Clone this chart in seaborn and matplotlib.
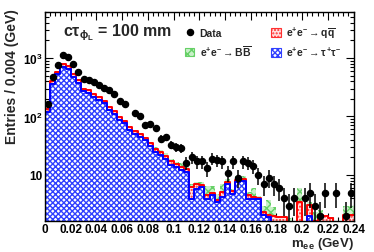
import numpy as np
import pandas as pd
import matplotlib
matplotlib.use("Agg")
import matplotlib.pyplot as plt
import seaborn as sns
from matplotlib.ticker import MultipleLocator, LogLocator, NullFormatter
from matplotlib.patches import Patch
from matplotlib.lines import Line2D

# ---------------- data ----------------
bin_width = 0.004
n_bins = 60

data_counts = [160, 470, 760, 1125, 1040, 800, 583, 438, 416, 385,
               345, 304, 280, 245, 185, 165, 0, 115, 103, 70,
               74, 63, 41, 44, 33, 30, 29, 16, 20, 17,
               17, 13, 19, 18, 17, 11, 17, 9, 17, 16,
               14, 10, 7, 9, 7, 6, 4, 3, 4, 0,
               4, 5, 3, 2, 5, 0, 5, 0, 2, 5]

tautau = [121, 360, 525, 711, 648, 477, 378, 270, 256, 218,
          192, 167, 131, 112, 88, 76, 59, 51, 45, 39,
          31.5, 25, 22, 18.5, 15, 13.7, 12.2, 11.3, 3.9, 5.8,
          6.2, 3.9, 4.5, 3.5, 4.2, 6.9, 4.8, 7.5, 8.0, 3.9,
          3.9, 3.9, 2.1, 1.9, 1.0, 0, 0, 0, 0, 0,
          0, 2.0, 0, 0, 0, 0, 0, 0, 0, 0]

qqbar = [13, 40, 58, 79, 72, 53, 42, 30, 29, 24,
         21, 19, 14, 13, 10, 9, 7, 6, 5, 4,
         3.5, 3, 3, 2.5, 2, 1.7, 1.5, 1.4, 2.3, 1.2,
         0.6, 0.7, 0.5, 0.3, 0.9, 0.6, 0.6, 0.7, 0.6, 0.6,
         0.3, 0.2, 0.2, 0.2, 1.0, 1.9, 1.9, 0, 0, 3.4,
         0, 1.1, 1.6, 2.1, 2.0, 1.8, 0, 0, 2.1, 2.1]

bbbar = [0, 0, 0, 0, 0, 0, 0, 0, 0, 0,
         0, 0.5, 0.5, 1, 1.5, 1, 1.5, 1, 2, 1.5,
         1, 2.5, 2, 2.5, 1.5, 1.5, 2, 1.5, 0.8, 0.5,
         0.8, 1.9, 1.5, 0.9, 1.8, 1.1, 0.4, 1.2, 0.8, 0.7,
         1.8, 0.3, 0.6, 1.6, 0.8, 0.1, 0, 1.8, 0, 2.5,
         0, 0.4, 0.7, 0.4, 0, 0, 0, 0, 0.9, 0.9]

x_ticks = [0, 0.02, 0.04, 0.06, 0.08, 0.1, 0.12, 0.14, 0.16, 0.18, 0.2, 0.22, 0.24]
x_tick_labels = ["0", "0.02", "0.04", "0.06", "0.08", "0.1", "0.12", "0.14",
                 "0.16", "0.18", "0.2", "0.22", "0.24"]
y_ticks = [10, 100, 1000]
y_tick_labels = ["10", r"10$^{2}$", r"10$^{3}$"]

# ---------------- style ----------------
sns.set_theme(style="ticks")
plt.rcParams['font.family'] = ['Liberation Sans', 'DejaVu Sans']
plt.rcParams['font.weight'] = 'bold'
plt.rcParams['mathtext.fontset'] = 'custom'
plt.rcParams['mathtext.rm'] = 'Liberation Sans:bold'
plt.rcParams['mathtext.it'] = 'Liberation Sans:bold'
plt.rcParams['mathtext.bf'] = 'Liberation Sans:bold'
plt.rcParams['mathtext.sf'] = 'Liberation Sans:bold'
plt.rcParams['hatch.linewidth'] = 1.0

edges = [round(i * bin_width, 6) for i in range(n_bins + 1)]
centers = np.array([(edges[i] + edges[i + 1]) / 2 for i in range(n_bins)])

tau = np.array(tautau, float)
qq = np.array(qqbar, float)
bb = np.array(bbbar, float)
dat = np.array(data_counts, float)

df = pd.concat([
    pd.DataFrame({"m": centers, "w": tau + qq + bb, "layer": "all"}),
    pd.DataFrame({"m": centers, "w": tau + qq, "layer": "tq"}),
    pd.DataFrame({"m": centers, "w": tau, "layer": "tau"}),
], ignore_index=True)

fig = plt.figure(figsize=(3.74, 2.53), dpi=100)
ax = fig.add_axes([45/374, 1 - 221.7/253, (353.5-45)/374, (221.7-13)/253])

# (layer, face colour, hatch colour, outline colour, hatch)
layers = [
    ("all", "#c8f0c8", "#66d066", None, "xxxx"),
    ("tq", "#ffe0e0", "#ff3030", "#ff0000", "....."),
    ("tau", "white", "#3040ff", "#0000ff", "xxxxxx"),
]
for name, fcol, hcol, lcol, hatch in layers:
    sub = df[df.layer == name]
    sns.histplot(data=sub, x="m", weights="w", bins=edges, element="step",
                 fill=True, facecolor=fcol, edgecolor=hcol, hatch=hatch,
                 linewidth=0, ax=ax)
    if lcol is not None:
        sns.histplot(data=sub, x="m", weights="w", bins=edges, element="step",
                     fill=False, color=lcol, linewidth=1.4, ax=ax)

mask = dat > 0
ax.errorbar(centers[mask], dat[mask], yerr=np.sqrt(dat[mask]), fmt="o",
            color="black", ms=4.4, elinewidth=1.1, capsize=0, zorder=5)

ax.set_yscale("log")
ax.set_xlim(0, 0.24)
ax.set_ylim(1.65, 6100)
ax.set_xlabel("")
ax.set_ylabel("")

ax.set_xticks(x_ticks)
ax.set_xticklabels(x_tick_labels)
ax.xaxis.set_minor_locator(MultipleLocator(0.004))
ax.set_yticks(y_ticks)
ax.set_yticklabels(y_tick_labels)
ax.yaxis.set_minor_locator(LogLocator(base=10, subs=np.arange(2, 10)))
ax.yaxis.set_minor_formatter(NullFormatter())
ax.tick_params(which="both", direction="in", top=True, right=True,
               width=0.8, colors="black", labelsize=8.5, pad=2)
ax.tick_params(which="major", length=6)
ax.tick_params(which="minor", length=3)
for s in ax.spines.values():
    s.set_linewidth(1.0)
    s.set_color("black")
for lab in ax.get_xticklabels() + ax.get_yticklabels():
    lab.set_fontweight("bold")

fig.text(12/374, 1 - 9/253, "Entries / 0.004 (GeV)", rotation=90, ha="center",
         va="top", fontsize=10, fontweight="bold")
fig.text(354/374, 1 - 244/253, r"m$_{\mathrm{ee}}$ (GeV)", ha="right", va="center",
         fontsize=9.5, fontweight="bold")
fig.text(63/374, 1 - 33/253, r"c$\tau_{\phi_{L}}$ = 100 mm", ha="left", va="center",
         fontsize=11.5, fontweight="bold")

handles = [
    Line2D([], [], marker="o", color="black", ls="none", ms=4.4),
    Patch(facecolor="#c8f0c8", edgecolor="#66d066", hatch="xxxx", lw=0.8),
    Patch(facecolor="#ffe0e0", edgecolor="#ff3030", hatch=".....", lw=0.8),
    Patch(facecolor="white", edgecolor="#3040ff", hatch="xxxxxx", lw=0.8),
]
labels = ["Data",
          r"e$^{+}$e$^{-}$$\rightarrow$B$\overline{\mathrm{B}}$",
          r"e$^{+}$e$^{-}$$\rightarrow$q$\overline{\mathrm{q}}$",
          r"e$^{+}$e$^{-}$$\rightarrow$$\tau^{+}\tau^{-}$"]
fig.legend(handles, labels, ncol=2, loc="upper left",
           bbox_to_anchor=(185/374, 1 - 26/253), frameon=False,
           prop={"size": 7.5, "weight": "bold"}, handlelength=0.9,
           handleheight=0.9, handletextpad=0.5, columnspacing=1.9,
           labelspacing=0.45, borderpad=0, borderaxespad=0)

fig.savefig("out.png", dpi=100)
